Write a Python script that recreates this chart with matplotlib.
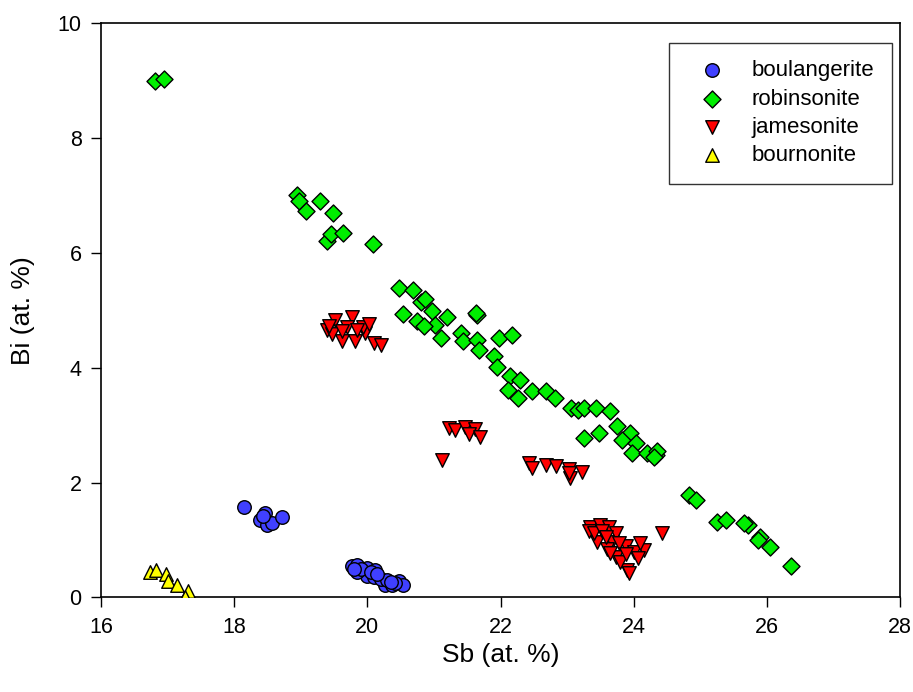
import matplotlib
matplotlib.use("Agg")
import matplotlib.pyplot as plt

plt.rcParams['font.family'] = ['Liberation Sans', 'DejaVu Sans']

# Sb (x) and Bi (y), at. %
boul_sb = [18.15, 18.47, 18.39, 18.49, 18.57, 18.72, 18.43,
           19.77, 19.84, 19.99, 20.12, 19.99, 20.10, 20.27, 20.37, 20.47, 20.54,
           19.84, 20.20, 19.90, 20.05, 20.30, 20.42, 19.80, 20.15, 20.35]
boul_bi = [1.58, 1.47, 1.35, 1.26, 1.29, 1.40, 1.42,
           0.54, 0.56, 0.51, 0.48, 0.37, 0.36, 0.22, 0.22, 0.28, 0.22,
           0.45, 0.33, 0.50, 0.45, 0.30, 0.25, 0.50, 0.40, 0.27]

rob_sb = [16.81, 16.94,
          18.95, 18.98, 19.08, 19.29, 19.49, 19.40, 19.45, 19.63, 20.09,
          20.48, 20.69, 20.80, 20.86, 20.54, 20.75, 20.97, 21.02, 21.20, 20.85,
          21.11, 21.40, 21.44, 21.65, 21.63, 21.65, 21.68, 21.98, 22.18, 21.90,
          21.95, 22.15, 22.30, 22.12, 22.27, 22.48, 22.68, 22.82, 23.06, 23.16,
          23.26, 23.43, 23.65, 23.25, 23.48, 23.75, 23.95, 23.83, 24.03, 23.98,
          24.20, 24.33, 24.35, 24.30,
          24.83, 24.93, 25.25, 25.38, 25.71, 25.66, 25.89, 25.86, 26.05, 26.37]
rob_bi = [8.99, 9.02,
          7.01, 6.90, 6.72, 6.90, 6.69, 6.20, 6.32, 6.34, 6.16,
          5.39, 5.36, 5.15, 5.20, 4.94, 4.81, 4.98, 4.75, 4.89, 4.73,
          4.52, 4.60, 4.46, 4.92, 4.95, 4.49, 4.31, 4.52, 4.57, 4.20,
          4.02, 3.85, 3.79, 3.61, 3.47, 3.59, 3.59, 3.47, 3.30, 3.27,
          3.30, 3.30, 3.24, 2.77, 2.86, 2.98, 2.86, 2.74, 2.69, 2.51,
          2.51, 2.48, 2.55, 2.45,
          1.79, 1.70, 1.32, 1.34, 1.26, 1.30, 1.05, 1.00, 0.87, 0.54]

jam_sb = [19.52, 19.77, 19.39, 19.47, 19.62, 19.82, 19.97, 19.93, 19.70, 20.10,
          20.20, 19.62, 19.85, 20.02, 19.42,
          21.22, 21.32, 21.47, 21.62, 21.52, 21.69, 21.12,
          22.43, 22.48, 22.68, 22.83, 23.03, 23.05, 23.23, 23.03,
          23.35, 23.50, 23.63, 23.45, 23.68, 23.60, 23.88, 24.00, 24.16, 24.06,
          23.90, 23.93, 23.73, 23.80, 24.43, 23.33, 23.40, 23.53, 23.73, 23.78,
          23.65, 24.10, 23.58, 23.88]
jam_bi = [4.83, 4.89, 4.66, 4.58, 4.46, 4.46, 4.60, 4.70, 4.70, 4.43,
          4.40, 4.63, 4.65, 4.76, 4.73,
          2.95, 2.92, 2.96, 2.93, 2.84, 2.80, 2.40,
          2.34, 2.26, 2.31, 2.28, 2.24, 2.08, 2.18, 2.17,
          1.23, 1.26, 1.23, 0.97, 0.97, 0.85, 0.89, 0.80, 0.83, 0.68,
          0.48, 0.42, 0.71, 0.62, 1.12, 1.15, 1.12, 1.15, 1.12, 0.94,
          0.77, 0.94, 1.06, 0.76]

bourn_sb = [16.74, 16.83, 16.98, 17.00, 17.14, 17.31, 17.26]
bourn_bi = [0.45, 0.48, 0.41, 0.28, 0.22, 0.12, 0.01]

fig = plt.figure(figsize=(9.13, 6.92), dpi=100)
ax = fig.add_axes([0.1106, 0.1366, 0.8752, 0.8302])

ax.scatter(boul_sb, boul_bi, s=95, marker='o', c='#4040ff', edgecolors='black',
           linewidths=1.0, label='boulangerite', zorder=3)
ax.scatter(rob_sb, rob_bi, s=75, marker='D', c='#00ee00', edgecolors='black',
           linewidths=1.0, label='robinsonite', zorder=3)
ax.scatter(jam_sb, jam_bi, s=95, marker='v', c='#ff0000', edgecolors='black',
           linewidths=1.0, label='jamesonite', zorder=3)
ax.scatter(bourn_sb, bourn_bi, s=95, marker='^', c='#ffff00', edgecolors='black',
           linewidths=1.0, label='bournonite', zorder=3)

ax.set_xlim(16, 28)
ax.set_ylim(0, 10)
ax.set_xticks(range(16, 29, 2))
ax.set_yticks(range(0, 11, 2))
ax.tick_params(direction='out', length=7, width=1, labelsize=15.5, pad=7)
for sp in ax.spines.values():
    sp.set_linewidth(1.2)
ax.set_xlabel('Sb (at. %)', fontsize=19, labelpad=4)
ax.set_ylabel('Bi (at. %)', fontsize=19, labelpad=16)

leg = ax.legend(loc='upper left', bbox_to_anchor=(0.711, 0.966), fontsize=16,
                frameon=True, fancybox=False, borderpad=0.8, handletextpad=0.6,
                handlelength=2.3, labelspacing=0.33, markerscale=1.0,
                borderaxespad=0)
leg.get_frame().set_edgecolor('black')
leg.get_frame().set_linewidth(1.0)

fig.savefig('out.png', dpi=100)
